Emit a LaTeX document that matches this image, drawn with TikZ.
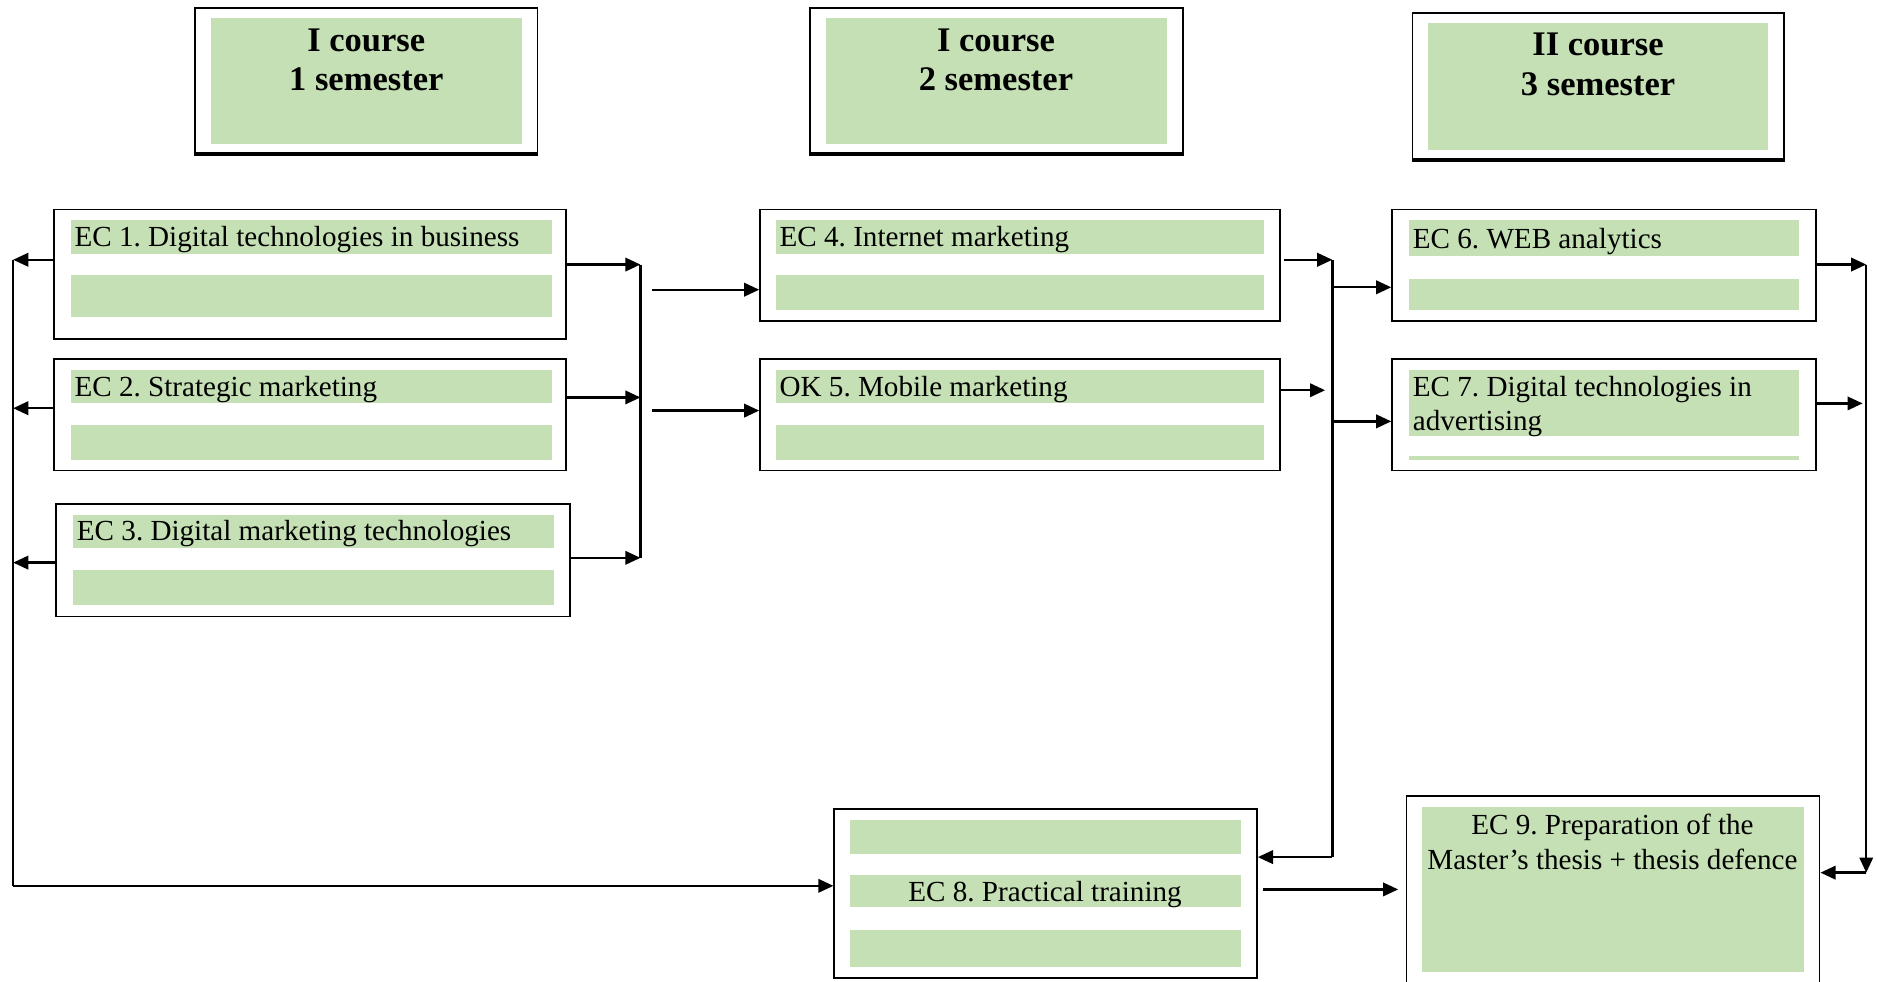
\documentclass[tikz,border=0pt]{standalone}
\usepackage{fontspec}
\setmainfont{Liberation Serif}
\usetikzlibrary{arrows.meta,fit}
\frenchspacing

\definecolor{stripgreen}{HTML}{C5E0B4}

\tikzset{
  box/.style={draw, line width=1.1pt, inner sep=0pt},
  strip/.style={fill=stripgreen, draw=none, inner sep=0pt},
  link/.style={line width=1.4pt, -{Triangle[length=9pt,width=8pt]}},
  bar/.style={line width=1.4pt},
  label/.style={font=\fontsize{17.3}{20.5}\selectfont, inner sep=0pt},
  head/.style={font=\fontsize{20.5}{23.5}\selectfont\bfseries, align=center, inner sep=0pt},
}

\begin{document}
\begin{tikzpicture}[x=0.025cm, y=-0.025cm]
\useasboundingbox (0,0) rectangle (1568,820);

% Semester headers
\node[strip, fit={(176,15)(436,120)}] (h1g) {};
\node[box, fit={(163,7)(449,128)}] (h1) {};
\draw[line width=2pt] (h1.south west) -- (h1.south east);
\node[head] at (306,50) {I course\\1 semester};

\node[strip, fit={(690,15)(975,120)}] (h2g) {};
\node[box, fit={(677,7)(988,128)}] (h2) {};
\draw[line width=2pt] (h2.south west) -- (h2.south east);
\node[head] at (832,50) {I course\\2 semester};

\node[strip, fit={(1193,19)(1477,125)}] (h3g) {};
\node[box, fit={(1180,11)(1490,133)}] (h3) {};
\draw[line width=2pt] (h3.south west) -- (h3.south east);
\node[head] at (1335,54) {II course\\3 semester};

% First semester disciplines
\node[strip, fit={(59,184)(461,212)}] {};
\node[strip, fit={(59,230)(461,265)}] {};
\node[box, fit={(45,175)(473,283)}] (ec1) {};
\node[label, anchor=west] at (62,200) {EC 1. Digital technologies in business};

\node[strip, fit={(59,309)(461,337)}] {};
\node[strip, fit={(59,355)(461,384)}] {};
\node[box, fit={(45,300)(473,393)}] (ec2) {};
\node[label, anchor=west] at (62,325) {EC 2. Strategic marketing};

\node[strip, fit={(61,430)(463,458)}] {};
\node[strip, fit={(61,476)(463,505)}] {};
\node[box, fit={(47,421)(476,515)}] (ec3) {};
\node[label, anchor=west] at (64,446) {EC 3. Digital marketing technologies};

% Second semester disciplines
\node[strip, fit={(648,184)(1056,212)}] {};
\node[strip, fit={(648,230)(1056,259)}] {};
\node[box, fit={(635,175)(1069,268)}] (ec4) {};
\node[label, anchor=west] at (651,200) {EC 4. Internet marketing};

\node[strip, fit={(648,309)(1056,337)}] {};
\node[strip, fit={(648,355)(1056,384)}] {};
\node[box, fit={(635,300)(1069,393)}] (ok5) {};
\node[label, anchor=west] at (651,325) {OK 5. Mobile marketing};

% Third semester disciplines
\node[strip, fit={(1177,184)(1503,214)}] {};
\node[strip, fit={(1177,233)(1503,259)}] {};
\node[box, fit={(1163,175)(1517,268)}] (ec6) {};
\node[label, anchor=west] at (1180,202) {EC 6. WEB analytics};

\node[strip, fit={(1177,309)(1503,364)}] {};
\node[strip, fit={(1177,381)(1503,384)}] {};
\node[box, fit={(1163,300)(1517,393)}] (ec7) {};
\node[label, anchor=north west, align=left] at (1180,314) {EC 7. Digital technologies in\\advertising};

% Practical training and thesis
\node[strip, fit={(710,685)(1037,713)}] {};
\node[strip, fit={(710,731)(1037,758)}] {};
\node[strip, fit={(710,777)(1037,808)}] {};
\node[box, fit={(697,676)(1050,817)}] (ec8) {};
\node[label] at (873,747) {EC 8. Practical training};

\node[strip, fit={(1188,674)(1507,812)}] {};
\node[box, fit={(1175,665)(1520,826)}] (ec9) {};
\node[label, align=center, anchor=north] at (1347,680) {EC 9. Preparation of the\\Master’s thesis + thesis defence};

% Left bus back to practical training
\coordinate (l1) at (11,217);
\coordinate (l2) at (11,341);
\coordinate (l3) at (11,470);
\coordinate (lbot) at (11,740);
\draw[link] (ec1.west |- l1) -- (l1);
\draw[link] (ec2.west |- l2) -- (l2);
\draw[link] (ec3.west |- l3) -- (l3);
\draw[bar] (l1) -- (lbot);
\draw[link] (lbot) -- (ec8.west |- lbot);

% Bus between first and second semester
\coordinate (r1) at (535,221);
\coordinate (r2) at (535,332);
\coordinate (r3) at (535,466);
\draw[link] (ec1.east |- r1) -- (r1);
\draw[link] (ec2.east |- r2) -- (r2);
\draw[link] (ec3.east |- r3) -- (r3);
\draw[bar] (r1) -- (r3);
\coordinate (m1) at (545,242);
\coordinate (m2) at (545,343);
\draw[link] (m1) -- (ec4.west |- m1);
\draw[link] (m2) -- (ok5.west |- m2);

% Bus between second and third semester
\coordinate (s1) at (1113,217);
\coordinate (s2) at (1113,326);
\coordinate (s3) at (1113,240);
\coordinate (s4) at (1113,352);
\coordinate (sbot) at (1113,716);
\draw[link] (1073,217) -- (s1);
\draw[link] (ok5.east |- s2) -- (1107,326);
\draw[bar] (s1) -- (sbot);
\draw[link] (s3) -- (ec6.west |- s3);
\draw[link] (s4) -- (ec7.west |- s4);
\draw[link] (sbot) -- (ec8.east |- sbot);

% Right bus into the thesis
\coordinate (t1) at (1559,221);
\coordinate (t2) at (1556,337);
\coordinate (tbot) at (1559,729);
\draw[link] (ec6.east |- t1) -- (t1);
\draw[link] (ec7.east |- t2) -- (t2);
\draw[link] (t1) -- (tbot);
\draw[link] (tbot) -- (ec9.east |- tbot);

% Practical training to thesis
\coordinate (p1) at (1055,743);
\draw[link] (p1) -- (1168,743);

\end{tikzpicture}
\end{document}
